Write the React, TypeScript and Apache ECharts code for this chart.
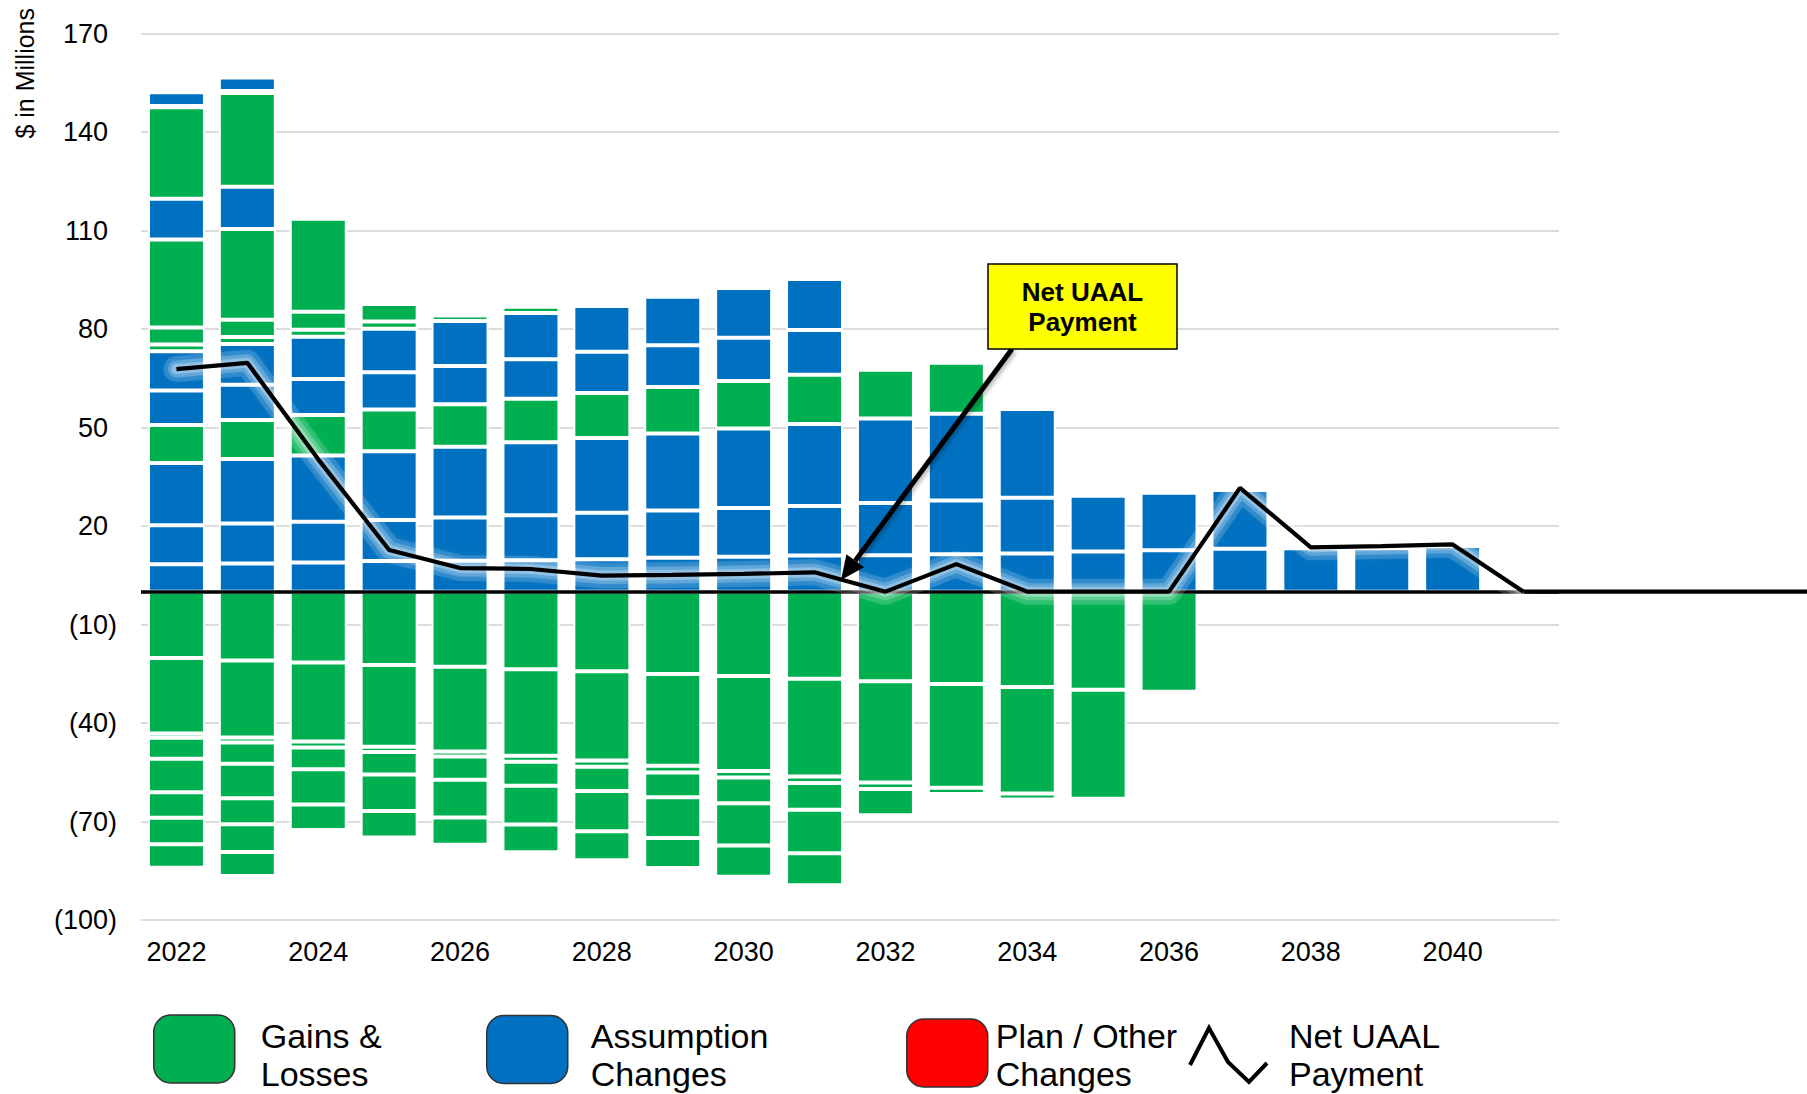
import React, { useEffect, useRef } from 'react';
import * as echarts from 'echarts';

// ---------- data ----------
const years = ['2022', '2023', '2024', '2025', '2026', '2027', '2028', '2029', '2030', '2031',
  '2032', '2033', '2034', '2035', '2036', '2037', '2038', '2039', '2040', '2041'];

const yMin = -100;
const yMax = 170;
const yStep = 30;

// positive amortization layers, bottom to top ($M)
const assumptionLayer1 = [8.35, 8.55, 8.85, 9.35, 9.4, 9.6, 9.9, 10.3, 10.6, 11.0, 11.1, 11.4, 11.65, 12.2, 12.6, 13.05, 13.2, 13.3, 13.9];
const assumptionLayer2 = [11.9, 12.2, 12.45, 12.5, 13.2, 13.7, 14.1, 14.45, 14.85, 15.1, 15.9, 16.4, 16.95, 17.0, 17.5, 17.95];
const assumptionLayer3 = [18.95, 19.65, 20.2, 20.9, 21.55, 22.2, 22.8, 23.45, 24.25, 25.0, 25.75, 26.4, 27.0];
const gainLayer4 = [11.55, 11.85, 12.3, 12.7, 12.95, 13.25, 13.7, 14.15, 14.5, 15.0, 14.85, 15.5];
const assumptionLayer5 = [10.5, 10.75, 10.95, 11.35, 11.6, 12.05, 12.55, 12.7, 13.1, 13.6];
const assumptionLayer6 = [12.0, 12.4, 12.9, 13.25, 13.75, 14.1, 13.95, 14.75, 15.2, 15.5];
const gainLayer7 = [2.05, 2.2, 2.15, 2.25, 1.65, 1.9];
const gainLayer8 = [5.15, 5.25, 5.45, 5.3, 0.7];
const gainLayer9 = [26.8, 27.6, 28.35];
const assumptionLayer10 = [12.4, 12.9];
const gainLayer11 = [27.85, 28.55];
const planLayer12 = [0.4, 0.6];
const assumptionLayer13 = [4.2, 4.1];

// negative (credit) layers, from zero downward ($M)
const gainCredit1 = [-20.2, -20.95, -21.6, -22.3, -22.9, -23.6, -24.25, -25.1, -25.7, -26.55, -27.3, -28.1, -29.0, -29.9, -30.5];
const gainCredit2 = [-23.0, -23.45, -24.05, -24.9, -25.8, -26.4, -27.2, -27.9, -28.9, -29.75, -30.8, -31.6, -32.5, -33.15];
const gainCredit3 = [-1.3, -1.55, -1.8, -1.6, -1.5, -1.8, -1.85, -2.05, -2.0, -2.0, -2.0, -1.9, -1.8];
const gainCredit4 = [-6.4, -6.45, -6.6, -6.9, -7.1, -7.3, -7.4, -7.6, -7.85, -8.1, -8.0];
const gainCredit5 = [-10.2, -10.55, -10.75, -11.1, -11.5, -11.8, -12.3, -12.4, -12.85, -13.3];
const gainCredit6 = [-7.75, -7.9, -7.8, -8.1, -8.3, -8.5, -8.8, -9.15, -9.5, -9.7];
const gainCredit7 = [-8.05, -8.45];
const gainCredit8 = [-7.2, -7.3];

const netUaalPayment = [67.8, 69.7, 40.3, 12.7, 7.2, 6.9, 4.9, 5.1, 5.4, 5.9, 0, 8.4, 0, 0, 0, 31.6, 13.5, 13.9, 14.4, 0];

const GAINS = 'Gains & Losses';
const ASSUMP = 'Assumption Changes';
const PLAN = 'Plan / Other Changes';
const NET = 'Net UAAL Payment';

const legendLines: Record<string, string[]> = {
  [GAINS]: ['Gains &', 'Losses'],
  [ASSUMP]: ['Assumption', 'Changes'],
  [PLAN]: ['Plan / Other', 'Changes'],
  [NET]: ['Net UAAL', 'Payment'],
};

// ---------- styles ----------
const GREEN = '#00B050';
const BLUE = '#0070C0';
const RED = '#FF0000';
const FONT = '"Liberation Sans", Arial, Helvetica, sans-serif';

const padToYears = (vals: number[]) =>
  years.map((_, i) => (i < vals.length ? vals[i] : null));

const positiveLayers = [
  { name: ASSUMP, color: BLUE, values: assumptionLayer1 },
  { name: ASSUMP, color: BLUE, values: assumptionLayer2 },
  { name: ASSUMP, color: BLUE, values: assumptionLayer3 },
  { name: GAINS, color: GREEN, values: gainLayer4 },
  { name: ASSUMP, color: BLUE, values: assumptionLayer5 },
  { name: ASSUMP, color: BLUE, values: assumptionLayer6 },
  { name: GAINS, color: GREEN, values: gainLayer7 },
  { name: GAINS, color: GREEN, values: gainLayer8 },
  { name: GAINS, color: GREEN, values: gainLayer9 },
  { name: ASSUMP, color: BLUE, values: assumptionLayer10 },
  { name: GAINS, color: GREEN, values: gainLayer11 },
  { name: PLAN, color: RED, values: planLayer12 },
  { name: ASSUMP, color: BLUE, values: assumptionLayer13 },
];
const negativeLayers = [gainCredit1, gainCredit2, gainCredit3, gainCredit4, gainCredit5, gainCredit6, gainCredit7, gainCredit8]
  .map((values) => ({ name: GAINS, color: GREEN, values }));

// soft halo drawn under the net payment line (width, opacity)
const glowLayers = [
  { width: 26, alpha: 0.16 },
  { width: 17, alpha: 0.2 },
  { width: 10, alpha: 0.28 },
];

// annotation arrow (pixel positions of the callout)
const ARROW_FROM = [1012, 349];
const ARROW_TO = [841, 580];

function arrowHead(from: number[], to: number[], len: number, half: number) {
  const dx = to[0] - from[0];
  const dy = to[1] - from[1];
  const L = Math.hypot(dx, dy);
  const ux = dx / L, uy = dy / L;
  const bx = to[0] - ux * len, by = to[1] - uy * len;
  const nx = -uy, ny = ux;
  return {
    base: [bx, by],
    points: [[to[0], to[1]], [bx + nx * half, by + ny * half], [bx - nx * half, by - ny * half]],
  };
}

export default function App() {
  const ref = useRef<HTMLDivElement>(null);

  useEffect(() => {
    document.body.style.margin = '0';
    if (!ref.current) return;
    const chart = echarts.init(ref.current, undefined, { renderer: 'svg' });

    const barSeries = [...positiveLayers, ...negativeLayers].map((layer) => ({
      type: 'bar',
      name: layer.name,
      stack: 'bases',
      data: padToYears(layer.values),
      barWidth: 57,
      itemStyle: { color: layer.color, borderColor: '#ffffff', borderWidth: 2 },
      emphasis: { disabled: true },
      silent: true,
      z: 2,
    }));

    const glowSeries = glowLayers.map((g, i) => ({
      type: 'line',
      name: 'glow' + i,
      data: netUaalPayment,
      symbol: 'none',
      silent: true,
      z: 6 + i,
      lineStyle: {
        color: `rgba(255,255,255,${g.alpha})`,
        width: g.width,
        cap: 'round',
        join: 'round',
        shadowBlur: 10,
        shadowColor: `rgba(255,255,255,${g.alpha})`,
      },
      emphasis: { disabled: true },
    }));

    const head = arrowHead(ARROW_FROM, ARROW_TO, 24, 11);

    const legendCommon = {
      orient: 'horizontal',
      padding: 0,
      itemGap: 0,
      itemWidth: 81,
      itemHeight: 68,
      icon: 'roundRect',
      selectedMode: false,
      itemStyle: { borderColor: '#333333', borderWidth: 1.5 },
    };
    // spacer: height of an empty top line that pushes the text below the icon's middle
    const legendFormatter = (spacer: number) => (name: string) => {
      const lines = legendLines[name] || [name];
      const body = lines.map((l) => `{t|${l}}`).join('\n');
      return spacer > 0 ? `{s${spacer}| }\n${body}` : body;
    };
    const legendText = (spacer: number, padLeft: number) => ({
      fontFamily: FONT,
      fontSize: 34,
      lineHeight: 38,
      color: '#000',
      padding: [0, 0, 0, padLeft],
      rich: {
        t: { fontFamily: FONT, fontSize: 34, lineHeight: 38, color: '#000' },
        ['s' + spacer]: { fontSize: 1, lineHeight: spacer },
      },
    });

    chart.setOption({
      animation: false,
      backgroundColor: '#ffffff',
      grid: { left: 141, right: 248, top: 33.5, bottom: 174, containLabel: false, outerBoundsMode: 'none' },
      xAxis: {
        type: 'category',
        data: years,
        axisLine: { show: false, onZero: false },
        axisTick: { show: false },
        splitLine: { show: false },
        axisLabel: { interval: 1, fontFamily: FONT, fontSize: 27, color: '#000', margin: 18 },
      },
      yAxis: {
        type: 'value',
        min: yMin,
        max: yMax,
        interval: yStep,
        axisLine: { show: false },
        axisTick: { show: false },
        splitLine: { show: true, lineStyle: { color: '#D0D0D0', width: 1.5 } },
        axisLabel: {
          margin: 24,
          formatter: (v: number) => (v < 0 ? `{neg|(${-v})}` : `{pos|${v}}`),
          rich: {
            neg: { fontFamily: FONT, fontSize: 27, color: '#000' },
            pos: { fontFamily: FONT, fontSize: 27, color: '#000', padding: [0, 9, 0, 0] },
          },
        },
      },
      legend: [
        { ...legendCommon, data: [GAINS], left: 153, top: 1005, formatter: legendFormatter(12), textStyle: legendText(12, 21) },
        { ...legendCommon, data: [ASSUMP], left: 486, top: 1006, formatter: legendFormatter(11), textStyle: legendText(11, 18) },
        { ...legendCommon, data: [PLAN], left: 906, top: 1013, formatter: legendFormatter(4), textStyle: legendText(4, 3) },
        {
          ...legendCommon,
          data: [NET],
          left: 1188,
          top: 1017,
          itemWidth: 77,
          itemHeight: 54,
          icon: 'path://M0,37L19,0L38,34L59,54L77,35',
          itemStyle: { color: 'rgba(0,0,0,0)', borderColor: '#000000', borderWidth: 4 },
          formatter: legendFormatter(0),
          textStyle: legendText(0, 17),
        },
      ],
      series: [
        ...barSeries,
        ...glowSeries,
        {
          type: 'line',
          name: NET,
          data: netUaalPayment,
          symbol: 'none',
          silent: true,
          z: 10,
          itemStyle: { color: '#000' },
          lineStyle: { color: '#000', width: 4.2 },
          emphasis: { disabled: true },
          markLine: {
            silent: true,
            symbol: 'none',
            label: { show: false },
            lineStyle: { color: '#000', width: 3.5, type: 'solid' },
            data: [{ yAxis: 0 }],
          },
        },
        {
          type: 'custom',
          name: 'netTail',
          silent: true,
          clip: false,
          z: 10,
          data: [[years.length - 1, netUaalPayment[netUaalPayment.length - 1]]],
          renderItem: (_params: any, api: any) => {
            const p = api.coord([api.value(0), api.value(1)]);
            return {
              type: 'line',
              shape: { x1: p[0], y1: p[1], x2: api.getWidth(), y2: p[1] },
              style: { stroke: '#000', lineWidth: 4.2 },
            };
          },
        },
      ],
      graphic: [
        {
          type: 'text',
          x: 25,
          y: 8,
          rotation: Math.PI / 2,
          style: {
            text: '$ in Millions',
            fontFamily: FONT,
            fontSize: 25,
            fill: '#000',
            align: 'right',
            verticalAlign: 'middle',
          },
        },
        {
          type: 'line',
          z: 20,
          shape: { x1: ARROW_FROM[0], y1: ARROW_FROM[1], x2: head.base[0], y2: head.base[1] },
          style: { stroke: '#000', lineWidth: 5, shadowBlur: 4, shadowColor: 'rgba(0,0,0,0.3)', shadowOffsetX: 2, shadowOffsetY: 2 },
        },
        {
          type: 'polygon',
          z: 20,
          shape: { points: head.points },
          style: { fill: '#000' },
        },
        {
          type: 'rect',
          z: 21,
          shape: { x: 988, y: 264, width: 189, height: 85 },
          style: { fill: '#FFFF00', stroke: '#000', lineWidth: 1.5 },
        },
        {
          type: 'text',
          z: 22,
          x: 1082.5,
          y: 307,
          style: {
            text: 'Net UAAL\nPayment',
            fontFamily: FONT,
            fontWeight: 'bold',
            fontSize: 26,
            lineHeight: 30,
            fill: '#000',
            align: 'center',
            verticalAlign: 'middle',
          },
        },
      ],
    });

    return () => chart.dispose();
  }, []);

  return (
    <div
      ref={ref}
      style={{ position: 'absolute', left: 0, top: 0, width: 1807, height: 1094, background: '#fff' }}
    />
  );
}
